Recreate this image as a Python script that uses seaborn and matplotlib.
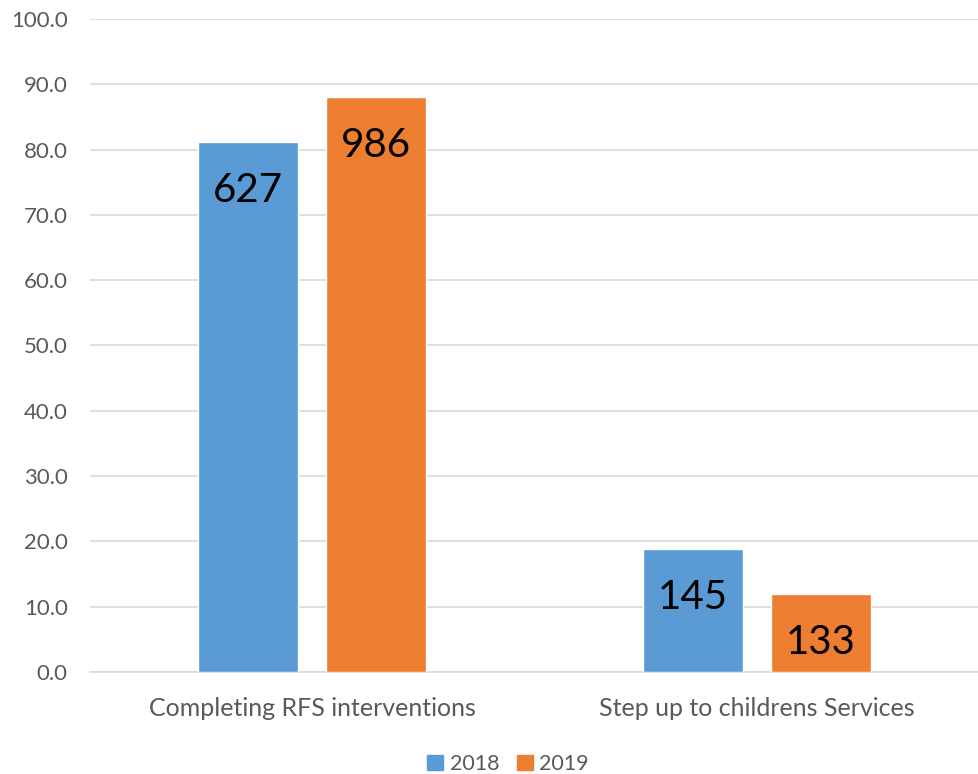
import numpy as np
import pandas as pd
import matplotlib
matplotlib.use('Agg')
import matplotlib.pyplot as plt
import seaborn as sns

# 데이터
categories = ['Completing RFS interventions', 'Step up to childrens Services']
years = ['2018', '2019']
pct_2018 = [81.2, 18.8]
pct_2019 = [88.1, 11.9]
count_2018 = [627, 145]
count_2019 = [986, 133]
y_ticks = [0, 10, 20, 30, 40, 50, 60, 70, 80, 90, 100]

df = pd.DataFrame({
    'category': categories * 2,
    'year': [years[0]] * 2 + [years[1]] * 2,
    'pct': pct_2018 + pct_2019,
    'count': count_2018 + count_2019,
})

sns.set_style('white')
plt.rcParams['font.family'] = ['Lato', 'DejaVu Sans']

fig = plt.figure(figsize=(9.79, 7.74), dpi=100)
ax = fig.add_axes([0.092, 0.1318, 0.908, 0.8437])

palette = {'2018': '#5B9BD5', '2019': '#ED7D31'}
sns.barplot(data=df, x='category', y='pct', hue='year', palette=palette,
            width=0.576, gap=0.219, saturation=1, ax=ax, legend=False, zorder=3)

# 막대 안쪽 상단에 건수 표시
for cont, counts in zip(ax.containers, [count_2018, count_2019]):
    for bar, c in zip(cont, counts):
        ax.annotate(str(c), (bar.get_x() + bar.get_width() / 2, bar.get_height()),
                    xytext=(0, -35), textcoords='offset points',
                    ha='center', va='center', fontsize=29, color='black')

ax.set_ylim(0, 100)
ax.set_xlim(-0.5, 1.5)
ax.set_yticks(y_ticks)
ax.set_yticklabels([f'{v:.1f}' for v in y_ticks])
ax.yaxis.grid(True, color='#d9d9d9', linewidth=1.2, zorder=0)
ax.set_axisbelow(True)
for s in ['top', 'right', 'left']:
    ax.spines[s].set_visible(False)
ax.spines['bottom'].set_color('#d9d9d9')
ax.spines['bottom'].set_linewidth(1.2)
ax.tick_params(axis='y', length=0, pad=16, labelsize=16, labelcolor='#595959')
ax.tick_params(axis='x', length=0, pad=18, labelsize=18, labelcolor='#595959')
ax.set_xlabel('')
ax.set_ylabel('')

handles = [plt.Rectangle((0, 0), 1, 1, color=palette[y]) for y in years]
leg = fig.legend(handles, years, loc='lower center', bbox_to_anchor=(0.519, -0.025),
                 ncol=2, frameon=False, handlelength=0.75, handleheight=0.75,
                 handletextpad=0.3, columnspacing=0.8, fontsize=15.5)
for t in leg.get_texts():
    t.set_color('#595959')

fig.savefig('out.png', dpi=100)
